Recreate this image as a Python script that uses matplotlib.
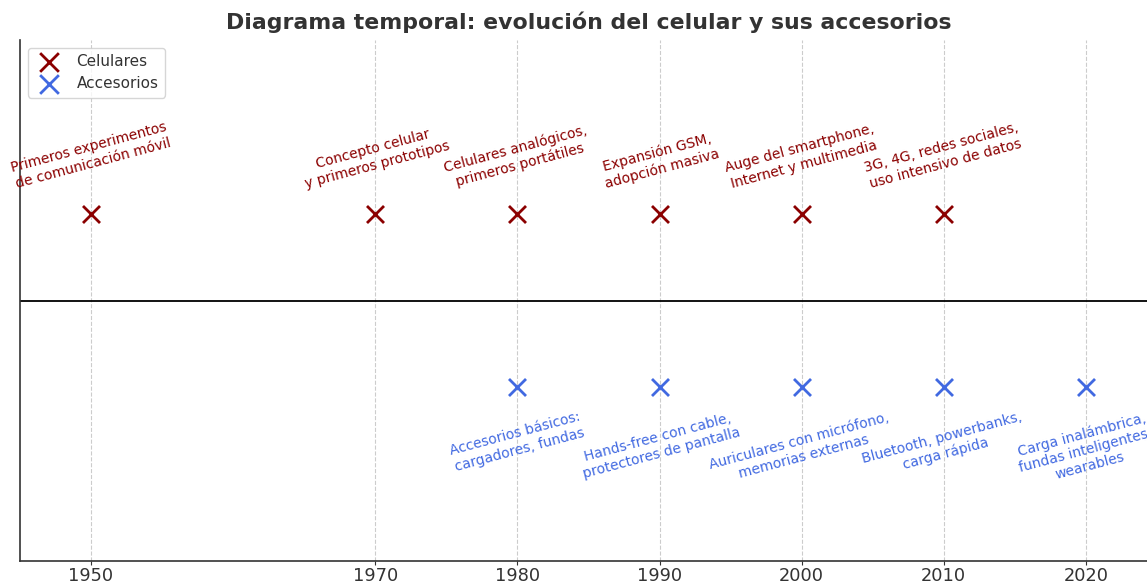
import matplotlib
matplotlib.use("Agg")
import matplotlib.pyplot as plt

cel_years = [1950, 1970, 1980, 1990, 2000, 2010]
cel_labels = [
    "Primeros experimentos\nde comunicación móvil",
    "Concepto celular\ny primeros prototipos",
    "Celulares analógicos,\nprimeros portátiles",
    "Expansión GSM,\nadopción masiva",
    "Auge del smartphone,\nInternet y multimedia",
    "3G, 4G, redes sociales,\nuso intensivo de datos",
]
acc_years = [1980, 1990, 2000, 2010, 2020]
acc_labels = [
    "Accesorios básicos:\ncargadores, fundas",
    "Hands-free con cable,\nprotectores de pantalla",
    "Auriculares con micrófono,\nmemorias externas",
    "Bluetooth, powerbanks,\ncarga rápida",
    "Carga inalámbrica,\nfundas inteligentes,\nwearables",
]
tick_years = [1950, 1970, 1980, 1990, 2000, 2010, 2020]

CEL_COLOR = "#8B0000"
ACC_COLOR = "#4169E1"

fig = plt.figure(figsize=(11.47, 5.83), dpi=100)
# axes runs slightly past the right edge of the picture, as in the reference
ax = fig.add_axes([20 / 1147, 22 / 583, 1137 / 1147, 521 / 583])

ax.scatter(cel_years, [0.5] * len(cel_years), marker="x", s=150, linewidths=2,
           color=CEL_COLOR, label="Celulares", zorder=3)
ax.scatter(acc_years, [-0.5] * len(acc_years), marker="x", s=150, linewidths=2,
           color=ACC_COLOR, label="Accesorios", zorder=3)

for yr, txt in zip(cel_years, cel_labels):
    ax.text(yr, 0.63, txt, rotation=15, ha="center", va="bottom",
            fontsize=10, color=CEL_COLOR)
for yr, txt in zip(acc_years, acc_labels):
    ax.text(yr, -0.63, txt, rotation=15, ha="center", va="top",
            fontsize=10, color=ACC_COLOR)

ax.axhline(0, color="black", linewidth=1.3)
ax.set_xlim(1945, 2025)
ax.set_ylim(-1.5, 1.5)
ax.set_xticks(tick_years)
ax.tick_params(axis="x", labelsize=12.8, colors="#333333", length=3, pad=1.5)
ax.set_yticks([])
ax.grid(axis="x", linestyle="--", color="#cccccc", linewidth=0.8)
for side in ["top", "right"]:
    ax.spines[side].set_visible(False)
for side in ["left", "bottom"]:
    ax.spines[side].set_color("#333333")
    ax.spines[side].set_linewidth(1.2)

ax.set_title("Diagrama temporal: evolución del celular y sus accesorios",
             fontsize=15.8, fontweight="bold", color="#333333", pad=8)
ax.legend(loc="upper left", fontsize=11, labelcolor="#333333", markerscale=1.1)

fig.savefig("out.png", dpi=100)
